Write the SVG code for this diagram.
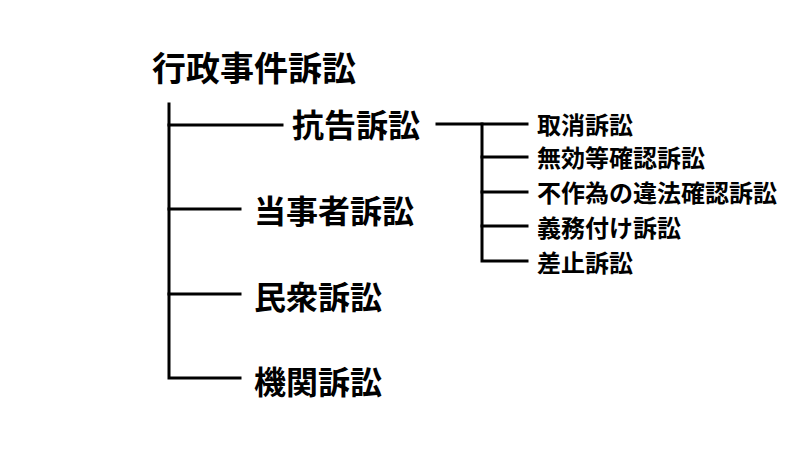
<svg xmlns="http://www.w3.org/2000/svg" width="800" height="450" viewBox="0 0 800 450">
<style>
text{font-family:"Noto Sans CJK JP","Noto Sans CJK SC",sans-serif;font-weight:700;fill:#000;dominant-baseline:central}
.t{font-size:34px}
.m{font-size:32px}
.s{font-size:24px}
.c{fill:none;stroke:#000;stroke-width:3;stroke-linecap:square}
</style>
<rect width="800" height="450" fill="#fff"/>
<g id="connectors">
<path class="c" d="M169 104 V378 H240"/>
<path class="c" d="M169 125 H282"/>
<path class="c" d="M169 209 H240"/>
<path class="c" d="M169 294 H240"/>
<path class="c" d="M437 124 H527"/>
<path class="c" d="M482 124 V261 H527"/>
<path class="c" d="M482 157 H527"/>
<path class="c" d="M482 192 H527"/>
<path class="c" d="M482 226 H527"/>
</g>
<g id="root"><text class="t" x="152" y="66">行政事件訴訟</text></g>
<g id="kokoku"><text class="m" x="292" y="123">抗告訴訟</text></g>
<g id="tojisha"><text class="m" x="254" y="209">当事者訴訟</text></g>
<g id="minshu"><text class="m" x="254" y="295">民衆訴訟</text></g>
<g id="kikan"><text class="m" x="254" y="380">機関訴訟</text></g>
<g id="torikeshi"><text class="s" x="537" y="123">取消訴訟</text></g>
<g id="muko"><text class="s" x="537" y="156">無効等確認訴訟</text></g>
<g id="fusakui"><text class="s" x="537" y="191">不作為の違法確認訴訟</text></g>
<g id="gimuzuke"><text class="s" x="537" y="226">義務付け訴訟</text></g>
<g id="sashitome"><text class="s" x="537" y="261">差止訴訟</text></g>
</svg>
